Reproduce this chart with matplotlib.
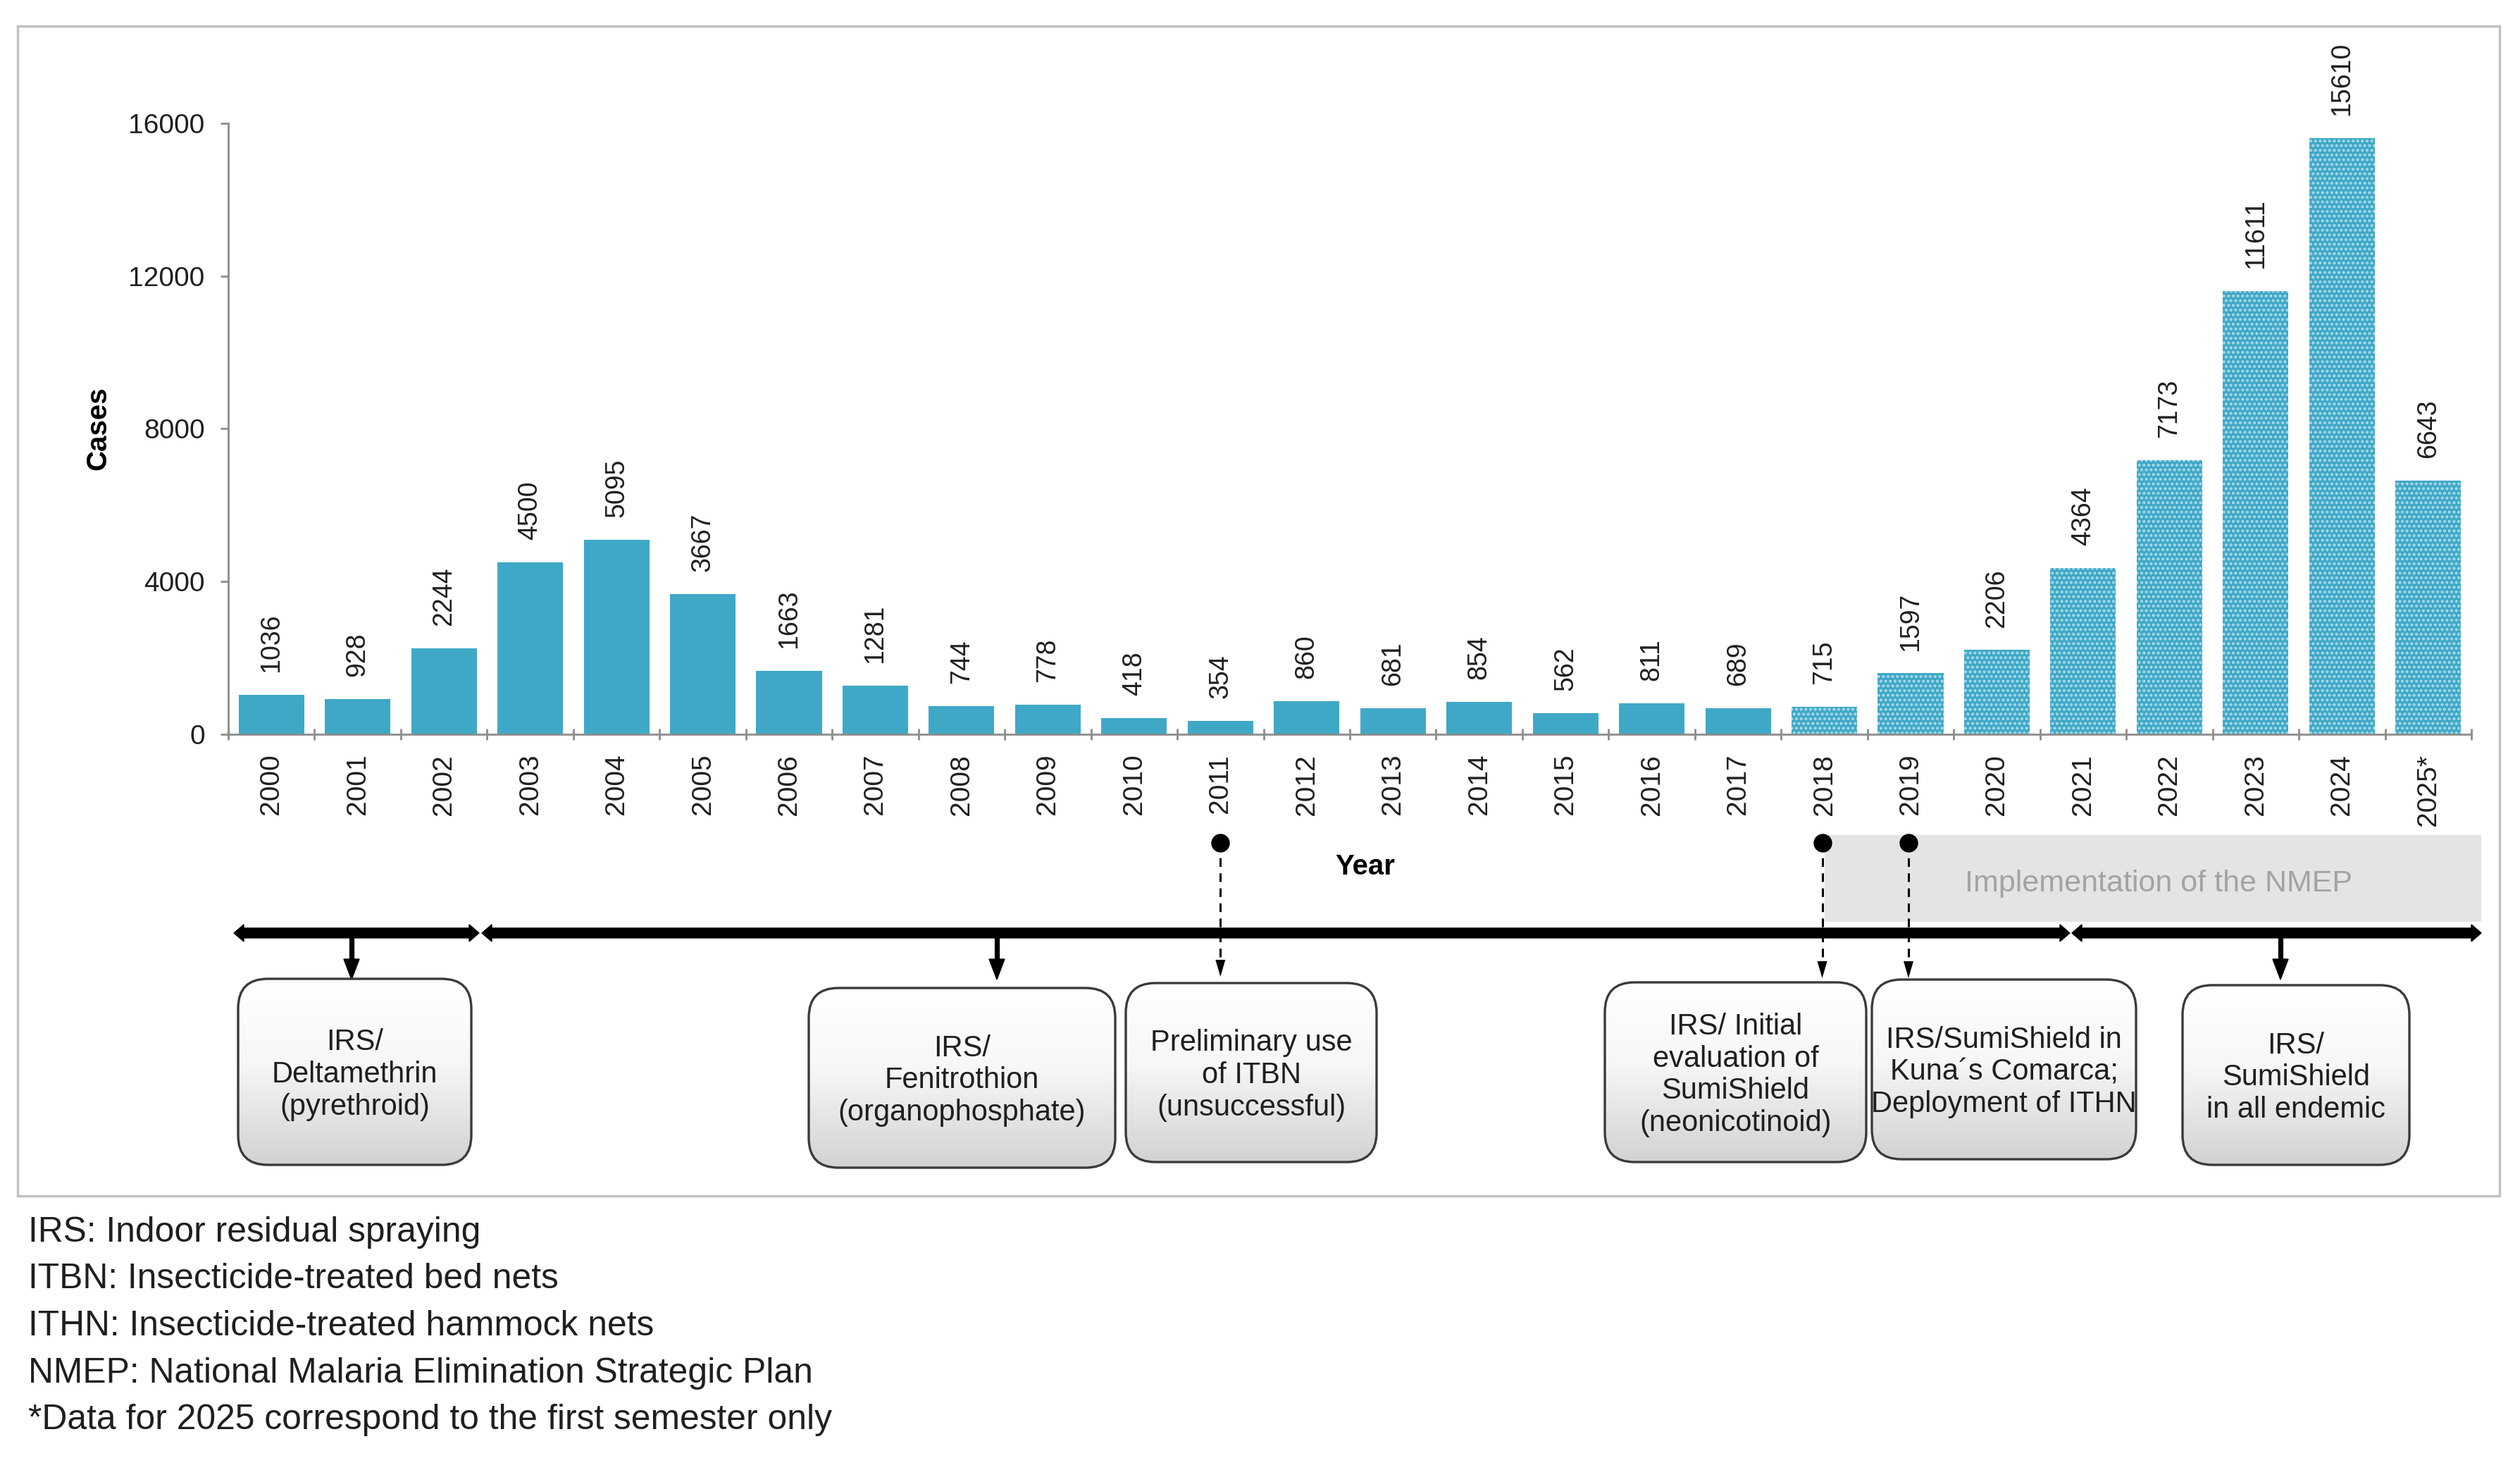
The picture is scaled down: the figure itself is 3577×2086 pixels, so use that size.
import matplotlib.pyplot as plt
import numpy as np
from matplotlib.patches import FancyBboxPatch, Rectangle, Polygon
from matplotlib.colors import LinearSegmentedColormap

plt.rcParams['font.family'] = ['Liberation Sans', 'DejaVu Sans']
plt.rcParams['hatch.linewidth'] = 1.0

# ---- data ----
years = ["2000", "2001", "2002", "2003", "2004", "2005", "2006", "2007", "2008",
         "2009", "2010", "2011", "2012", "2013", "2014", "2015", "2016", "2017",
         "2018", "2019", "2020", "2021", "2022", "2023", "2024", "2025*"]
cases = [1036, 928, 2244, 4500, 5095, 3667, 1663, 1281, 744, 778, 418, 354, 860,
         681, 854, 562, 811, 689, 715, 1597, 2206, 4364, 7173, 11611, 15610, 6643]
nmep_start = "2018"
y_ticks = [0, 4000, 8000, 12000, 16000]

event_years = ["2011", "2018", "2019"]   # dashed markers (dot -> box)
box_texts = [
    "IRS/\nDeltamethrin\n(pyrethroid)",
    "IRS/\nFenitrothion\n(organophosphate)",
    "Preliminary use\nof ITBN\n(unsuccessful)",
    "IRS/ Initial\nevaluation of\nSumiShield\n(neonicotinoid)",
    "IRS/SumiShield in\nKuna´s Comarca;\nDeployment of ITHN",
    "IRS/\nSumiShield\nin all endemic",
]
footnotes = [
    "IRS: Indoor residual spraying",
    "ITBN: Insecticide-treated bed nets",
    "ITHN: Insecticide-treated hammock nets",
    "NMEP: National Malaria Elimination Strategic Plan",
    "*Data for 2025 correspond to the first semester only",
]

W, H, DPI = 3577, 2086, 200
BAR = '#3fa8c6'
TXT = '#1f1f1f'

fig = plt.figure(figsize=(W / DPI, H / DPI), dpi=DPI)

# overlay in pixel coordinates for the timeline part
ov = fig.add_axes([0, 0, 1, 1])
ov.set_xlim(0, W)
ov.set_ylim(H, 0)
ov.axis('off')

ax = fig.add_axes([324 / W, 1 - 1042 / H, (3508 - 324) / W, (1042 - 175) / H])
ax.set_facecolor('none')

x = np.arange(len(years))
i0 = years.index(nmep_start)
ax.bar(x[:i0], cases[:i0], width=0.76, color=BAR, linewidth=0)
ax.bar(x[i0:], cases[i0:], width=0.76, color=BAR, edgecolor='#a9dcea',
       hatch='.....', linewidth=0)

for xi, v in zip(x, cases):
    ax.annotate(str(v), (xi, v), xytext=(0, 11.5), textcoords='offset points',
                rotation=90, ha='center', va='bottom', fontsize=13.5, color=TXT,
                annotation_clip=False)

ax.set_xlim(-0.5, len(years) - 0.5)
ax.set_ylim(0, 16000)
ax.set_yticks(y_ticks)
ax.set_xticks(x)
ax.set_xticklabels(years, rotation=90)
ax.set_xticks(np.arange(-0.5, len(years)), minor=True)
ax.tick_params(axis='x', which='major', length=0, pad=10, labelsize=14, labelcolor=TXT)
ax.tick_params(axis='x', which='minor', direction='inout', length=6, width=1, color='#8c8c8c')
ax.tick_params(axis='y', length=4, width=1, color='#8c8c8c', pad=8, labelsize=14, labelcolor=TXT)
for s in ['top', 'right']:
    ax.spines[s].set_visible(False)
for s in ['left', 'bottom']:
    ax.spines[s].set_color('#8c8c8c')
    ax.spines[s].set_linewidth(1)

ov.text(139, 608, "Cases", rotation=90, ha='center', va='center',
        fontsize=14.5, fontweight='bold', color='black')
ov.text(1938, 1230, "Year", ha='center', va='center',
        fontsize=14.5, fontweight='bold', color='black')


def px_of(label):
    return ax.transData.transform((years.index(label), 0))[0]


# outer frame
ov.add_patch(Rectangle((25, 37), 3548 - 25, 1697 - 37, fill=False,
                       edgecolor='#c0c0c0', linewidth=1.2))

# NMEP band
x18 = px_of(nmep_start)
ov.add_patch(Rectangle((x18, 1185), 3522 - x18, 123, facecolor='#e4e4e4',
                       edgecolor='none'))
ov.text(3064, 1254, "Implementation of the NMEP", ha='center', va='center',
        fontsize=15.5, color='#a3a3a3')

# thick timeline segments with arrow heads
def double_arrow(x0, x1, y, t=7, hw=12, hl=14):
    pts = [(x0, y), (x0 + hl, y - hw), (x0 + hl, y - t), (x1 - hl, y - t),
           (x1 - hl, y - hw), (x1, y), (x1 - hl, y + hw), (x1 - hl, y + t),
           (x0 + hl, y + t), (x0 + hl, y + hw)]
    ov.add_patch(Polygon(pts, closed=True, facecolor='black', edgecolor='black',
                         linewidth=0.5))

LINE_Y = 1324
double_arrow(332, 680, LINE_Y)
double_arrow(684, 2938, LINE_Y)
double_arrow(2941, 3522, LINE_Y)

# solid down arrows
for ax_x in [499, 1415, 3237]:
    ov.plot([ax_x, ax_x], [LINE_Y + 5, 1364], lw=2.6, color='black',
            solid_capstyle='butt')
    ov.add_patch(Polygon([(ax_x - 11, 1361), (ax_x + 11, 1361), (ax_x, 1390)],
                         closed=True, facecolor='black', edgecolor='black',
                         linewidth=0.5))

# dashed markers from event years
tips = [1386, 1388, 1388]
for lab, tip in zip(event_years, tips):
    ex = px_of(lab) - (3 if lab != "2011" else 0)
    ov.plot([ex, ex], [1196, tip - 20], ls=(0, (4, 3)), lw=1.1, color='black')
    ov.add_patch(Polygon([(ex - 7, tip - 24), (ex + 7, tip - 24), (ex, tip)],
                         closed=True, facecolor='black', edgecolor='none'))
    ov.plot(ex, 1196, 'o', ms=8.5, color='black')

# rounded gradient boxes
box_layout = [(338, 1389, 669, 1653), (1148, 1402, 1583, 1657),
              (1598, 1395, 1954, 1649), (2278, 1394, 2649, 1649),
              (2657, 1390, 3032, 1645), (3098, 1398, 3420, 1653)]
cmap = LinearSegmentedColormap.from_list('g', [(0, '#ffffff'), (0.45, '#f7f7f7'),
                                               (1, '#d2d2d2')])
grad = np.linspace(0, 1, 256).reshape(-1, 1)
for (x0, y0, x1, y1), t in zip(box_layout, box_texts):
    patch = FancyBboxPatch((x0, y0), x1 - x0, y1 - y0,
                           boxstyle='round,pad=0,rounding_size=42',
                           facecolor='none', edgecolor='#3a3a3a', linewidth=1.2,
                           zorder=3)
    ov.add_patch(patch)
    im = ov.imshow(grad, cmap=cmap, extent=(x0, x1, y1, y0), origin='upper',
                   aspect='auto', zorder=2)
    im.set_clip_path(patch)
    ov.text((x0 + x1) / 2, (y0 + y1) / 2 + 4, t, ha='center', va='center',
            fontsize=15, color=TXT, linespacing=1.18, zorder=4)

ov.set_xlim(0, W)
ov.set_ylim(H, 0)

for k, s in enumerate(footnotes):
    ov.text(40, 1749 + k * 66.5, s, ha='left', va='center', fontsize=17.9, color=TXT)

fig.savefig("out.png", dpi=DPI)
